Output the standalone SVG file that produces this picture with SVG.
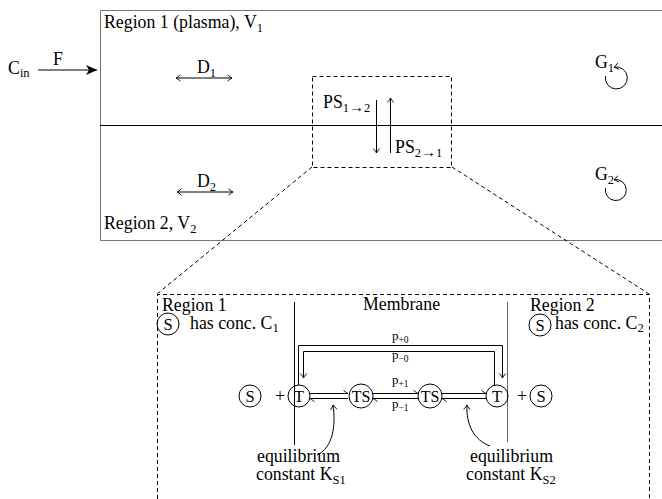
<svg xmlns="http://www.w3.org/2000/svg" width="662" height="499" viewBox="0 0 662 499">
<style>
text{font-family:"Liberation Serif","Times New Roman",serif;font-size:17.8px;fill:#000}
.s{font-size:12.5px}
.p{font-size:13px}
.ps{font-size:9.5px}
.m{text-anchor:middle}
.cs{font-size:16.5px;text-anchor:middle}
.ar{font-size:15px}
.ln{stroke:#000;stroke-width:1;fill:none}
.dash{stroke:#000;stroke-width:1;fill:none;stroke-dasharray:4 3}
.c{stroke:#000;stroke-width:1;fill:none}
</style>
<defs>
<marker id="stealth" markerUnits="userSpaceOnUse" markerWidth="14" markerHeight="12" refX="0" refY="0" viewBox="-11 -6 12 12" orient="auto" overflow="visible">
<path d="M0,0 L-11,-5 L-8,0 L-11,5 Z" fill="#000"/>
</marker>
<marker id="to" markerUnits="userSpaceOnUse" markerWidth="8" markerHeight="8" refX="0" refY="0" viewBox="-5 -4 6 8" orient="auto" overflow="visible">
<path d="M-4.5,-3.2 Q-1.5,-0.6 0,0 Q-1.5,0.6 -4.5,3.2" fill="none" stroke="#000" stroke-width="0.9"/>
</marker>
<marker id="tos" markerUnits="userSpaceOnUse" markerWidth="8" markerHeight="8" refX="0" refY="0" viewBox="-5 -4 6 8" orient="auto-start-reverse" overflow="visible">
<path d="M-4.5,-3.2 Q-1.5,-0.6 0,0 Q-1.5,0.6 -4.5,3.2" fill="none" stroke="#000" stroke-width="0.9"/>
</marker>
<marker id="harp" markerUnits="userSpaceOnUse" markerWidth="8" markerHeight="8" refX="0" refY="0" viewBox="-5 -4 6 8" orient="auto" overflow="visible">
<path d="M0,0 Q-1.5,-0.6 -4.5,-3.2" fill="none" stroke="#000" stroke-width="0.9"/>
</marker>
</defs>

<g id="plasma-box">
<path d="M662,10.5 H100.5 V240.5 H662" stroke="#777" fill="none"/>
<line x1="100" y1="125.5" x2="662" y2="125.5" stroke="#000"/>
<text x="104" y="28">Region 1 (plasma), V<tspan class="s" dy="3.5">1</tspan></text>
<text x="104" y="229">Region 2, V<tspan class="s" dy="3.5">2</tspan></text>
</g>

<g id="inflow">
<text x="8" y="74">C<tspan class="s" dy="3">in</tspan></text>
<text x="53" y="65">F</text>
</g>

<g id="D1"><text x="197" y="73">D<tspan class="s" dy="3.5">1</tspan></text></g>
<g id="D2"><text x="197" y="187">D<tspan class="s" dy="3.5">2</tspan></text></g>
<g id="G1"><text x="595" y="68">G<tspan class="s" dy="3.5">1</tspan></text></g>
<g id="G2"><text x="595" y="180">G<tspan class="s" dy="3.5">2</tspan></text></g>

<g id="PS-box">
<rect x="312.5" y="76.5" width="139" height="91" class="dash"/>
<text x="323" y="108">PS<tspan class="s" dy="3.5">1</tspan><tspan class="ar" dy="0.5">→</tspan><tspan class="s" dy="-0.5">2</tspan></text>
<text x="395" y="153">PS<tspan class="s" dy="3.5">2</tspan><tspan class="ar" dy="0.5">→</tspan><tspan class="s" dy="-0.5">1</tspan></text>
</g>

<g id="connectors">
<line x1="38" y1="70" x2="97" y2="70" class="ln" marker-end="url(#stealth)"/>
<line x1="176" y1="78" x2="232" y2="78" class="ln" marker-start="url(#tos)" marker-end="url(#tos)"/>
<line x1="177" y1="192" x2="233" y2="192" class="ln" marker-start="url(#tos)" marker-end="url(#tos)"/>
<line x1="376.5" y1="100" x2="376.5" y2="153" class="ln" marker-end="url(#to)"/>
<line x1="390.5" y1="153" x2="390.5" y2="98" class="ln" marker-end="url(#to)"/>
<path d="M605.5,76 A11,11 0 1 0 614,67.2" class="ln" marker-end="url(#to)"/>
<path d="M605.5,188 A10.5,10.5 0 1 0 614,179.7" class="ln" marker-end="url(#to)"/>
<path d="M312,167 L157,294" class="dash"/>
<path d="M452,167 L649,294" class="dash"/>
<path d="M298.5,385 V345.5 H502.5 V378" class="ln" marker-end="url(#to)"/>
<path d="M494.5,386 V351.5 H303.5 V378" class="ln" marker-end="url(#to)"/>
<path d="M310,393.5 H348" class="ln" marker-end="url(#harp)"/>
<path d="M348,398.5 H310" class="ln" marker-end="url(#harp)"/>
<path d="M373,393.5 H418" class="ln" marker-end="url(#harp)"/>
<path d="M418,398.5 H373" class="ln" marker-end="url(#harp)"/>
<path d="M442,393.5 H486" class="ln" marker-end="url(#harp)"/>
<path d="M486,398.5 H442" class="ln" marker-end="url(#harp)"/>
<path d="M317,455 C333,448 336,425 333,405" class="ln" marker-end="url(#to)"/>
<path d="M490,446 C474,440 466,425 467,405" class="ln" marker-end="url(#to)"/>
</g>

<g id="membrane-box">
<path d="M157.5,499 V294.5 H649.5 V499" class="dash"/>
<line x1="294.5" y1="302" x2="294.5" y2="445" class="ln"/>
<line x1="507.5" y1="302" x2="507.5" y2="442" stroke="#666"/>
<text x="162" y="311">Region 1</text>
<text x="363" y="310">Membrane</text>
<text x="530" y="311">Region 2</text>
</g>

<g id="S-region1">
<circle cx="168" cy="324" r="11" class="c"/>
<text x="168" y="330" class="cs">S</text>
<text x="190" y="328.5">has conc. C<tspan class="s" dy="3.5">1</tspan></text>
</g>
<g id="S-region2">
<circle cx="540" cy="325" r="11" class="c"/>
<text x="540" y="331" class="cs">S</text>
<text x="555" y="328.5">has conc. C<tspan class="s" dy="3.5">2</tspan></text>
</g>

<g id="S-left"><circle cx="250" cy="396" r="11" class="c"/><text x="250" y="402" class="cs">S</text></g>
<g id="plus-left"><text x="280" y="402" class="m">+</text></g>
<g id="T-left"><circle cx="299" cy="396" r="11" class="c"/><text x="299" y="402" class="cs">T</text></g>
<g id="TS-left"><circle cx="361" cy="396" r="12" class="c"/><text x="361" y="402" class="m" style="font-size:16px">TS</text></g>
<g id="TS-right"><circle cx="430" cy="396" r="12" class="c"/><text x="430" y="402" class="m" style="font-size:16px">TS</text></g>
<g id="T-right"><circle cx="497" cy="396" r="11" class="c"/><text x="497" y="402" class="cs">T</text></g>
<g id="plus-right"><text x="522" y="402" class="m">+</text></g>
<g id="S-right"><circle cx="541" cy="396" r="11" class="c"/><text x="541" y="402" class="cs">S</text></g>

<g id="rates">
<text x="392" y="340" class="p">p<tspan class="ps" dy="3">+0</tspan></text>
<text x="392" y="359" class="p">p<tspan class="ps" dy="3">−0</tspan></text>
<text x="392" y="384" class="p">p<tspan class="ps" dy="3">+1</tspan></text>
<text x="392" y="408" class="p">p<tspan class="ps" dy="3">−1</tspan></text>
</g>

<g id="KS1">
<text x="257" y="462">equilibrium</text>
<text x="256" y="480">constant K<tspan class="s" dy="3.5">S1</tspan></text>
</g>
<g id="KS2">
<text x="470" y="462">equilibrium</text>
<text x="466" y="480">constant K<tspan class="s" dy="3.5">S2</tspan></text>
</g>
</svg>
